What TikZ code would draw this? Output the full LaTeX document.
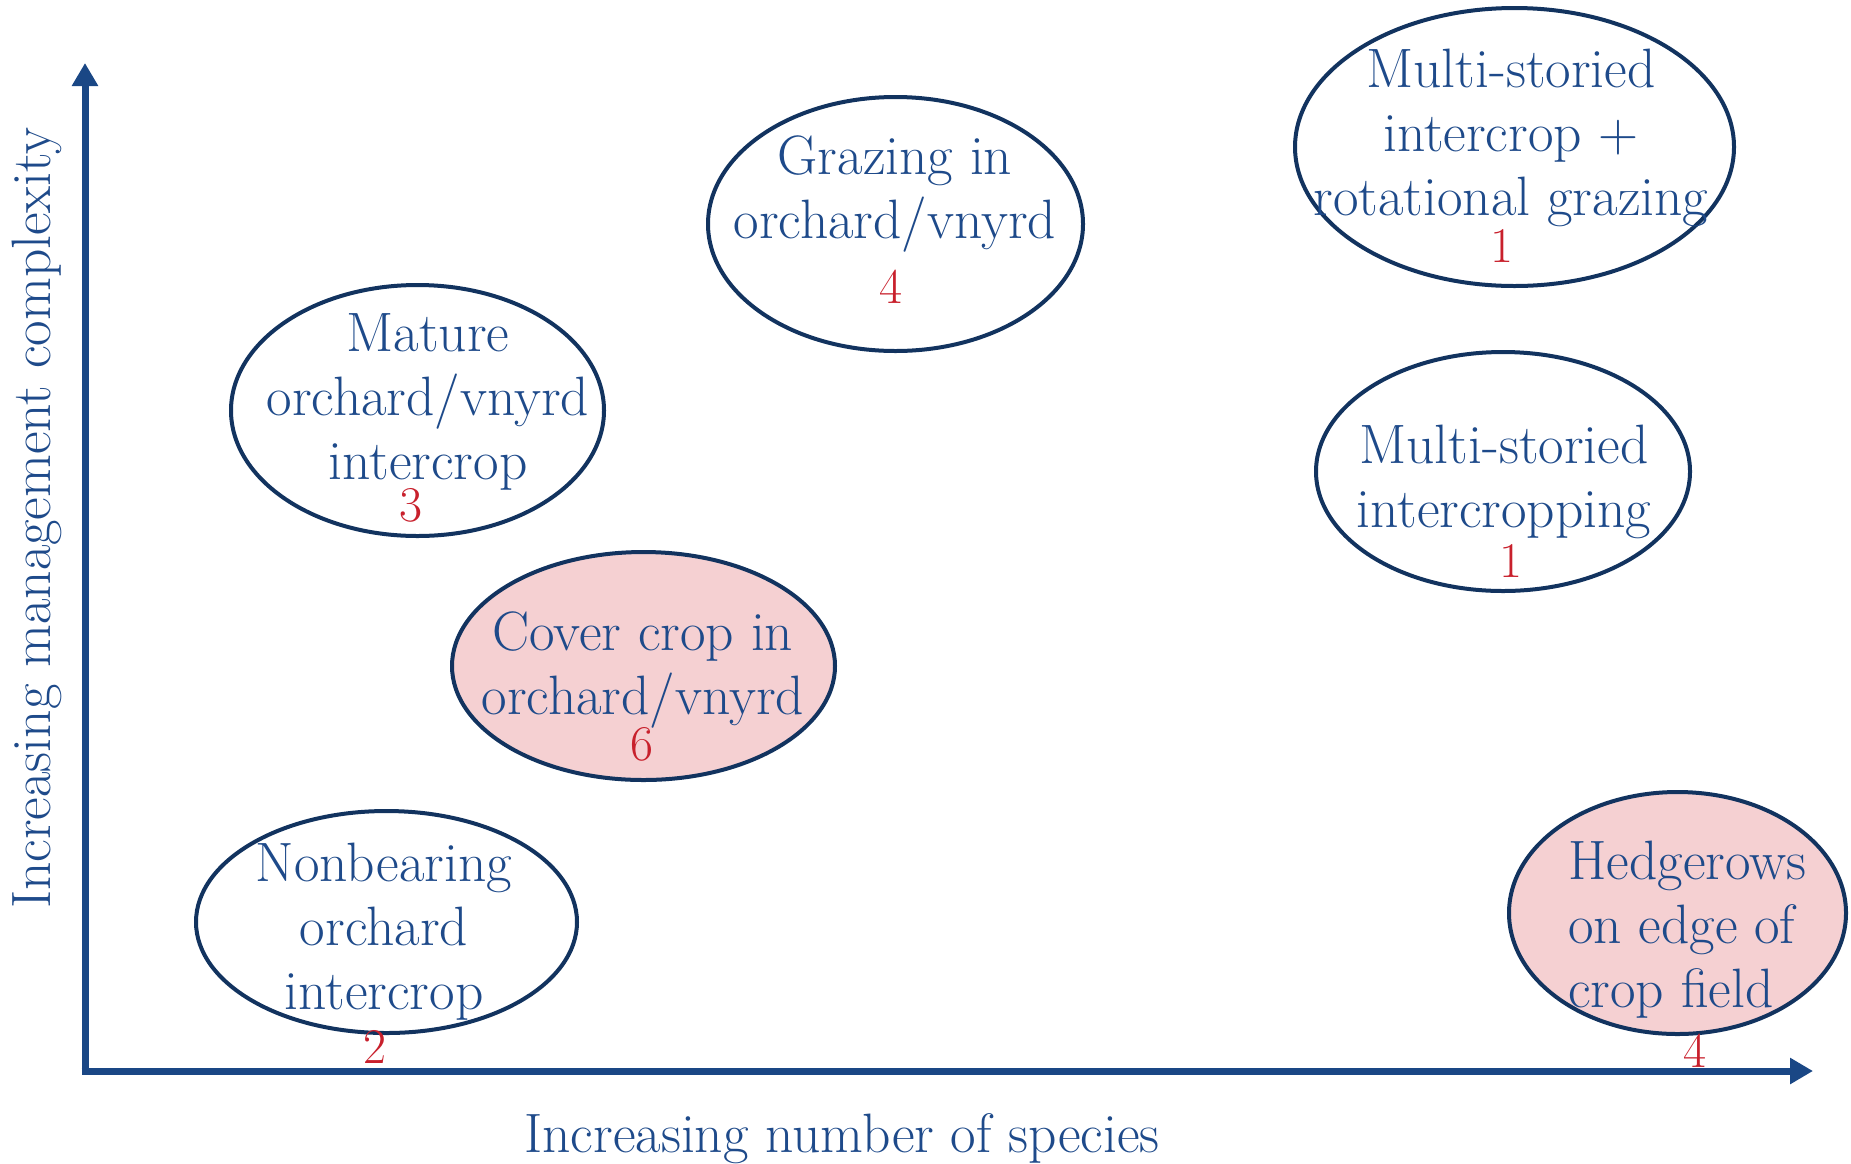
\documentclass[tikz,border=0pt]{standalone}
\usetikzlibrary{shapes.geometric,arrows.meta}
\definecolor{txtblue}{HTML}{1E4A8A}
\definecolor{navy}{HTML}{12335F}
\definecolor{pinkfill}{HTML}{F5D0D2}
\definecolor{numred}{HTML}{C8202C}
\definecolor{axisblue}{HTML}{1A4785}
\begin{document}
\begin{tikzpicture}[x=1pt,y=-1pt,
  ell/.style={ellipse,draw=navy,line width=4pt,inner sep=0pt},
  pinkell/.style={ell,fill=pinkfill},
  lbl/.style={text=txtblue,align=center,inner sep=0pt,font=\fontsize{55.5}{64}\selectfont},
  num/.style={text=numred,inner sep=0pt,font=\fontsize{50}{60}\selectfont},
  axis/.style={draw=axisblue,line width=7pt,-{Triangle[length=23pt,width=25pt]}}]
\useasboundingbox (0,0) rectangle (1851,1163);
% ellipses
\node[ell,minimum width=439pt,minimum height=278pt] (e1) at (1514.5,147) {};
\node[ell,minimum width=375pt,minimum height=254pt] (e2) at (895.5,224) {};
\node[ell,minimum width=373pt,minimum height=251pt] (e3) at (417.5,410.5) {};
\node[pinkell,minimum width=383pt,minimum height=228pt] (e4) at (643.5,666) {};
\node[ell,minimum width=381pt,minimum height=222pt] (e5) at (386.5,922) {};
\node[ell,minimum width=374pt,minimum height=239pt] (e6) at (1503,471.5) {};
\node[pinkell,minimum width=337pt,minimum height=242pt] (e7) at (1677.5,913) {};
% axes
\coordinate (o) at (85,1071);
\coordinate (ytip) at (85,63);
\coordinate (xtip) at (1813,1071);
\draw[axis] ([yshift=3.5pt]o) -- (ytip);
\draw[axis] ([xshift=-3.5pt]o) -- (xtip);
% texts
\node[lbl] (t1) at (1511,138) {Multi-storied\\intercrop +\\rotational grazing};
\node[num] (n1) at (1502,246) {1};
\node[lbl] (t2) at (895,194) {Grazing in\\orchard/vnyrd};
\node[num] (n2) at (891,287) {4};
\node[lbl] (t3) at (428,402) {Mature\\orchard/vnyrd\\intercrop};
\node[num] (n3) at (411,505) {3};
\node[lbl] (t4) at (643,670) {Cover crop in\\orchard/vnyrd};
\node[num] (n4) at (642,744) {6};
\node[lbl] (t5) at (384,932) {Nonbearing\\orchard\\intercrop};
\node[num] (n5) at (375,1047) {2};
\node[lbl] (t6) at (1504,482) {Multi-storied\\intercropping};
\node[num] (n6) at (1511,561) {1};
\node[lbl,align=left,anchor=west] (t7) at (1568,930) {Hedgerows\\on edge of\\crop field};
\node[num] (n7) at (1695,1051) {4};
\node[lbl] (xl) at (842,1139) {Increasing number of species};
\node[lbl,rotate=90] (yl) at (37,518) {Increasing management complexity};
\end{tikzpicture}
\end{document}
